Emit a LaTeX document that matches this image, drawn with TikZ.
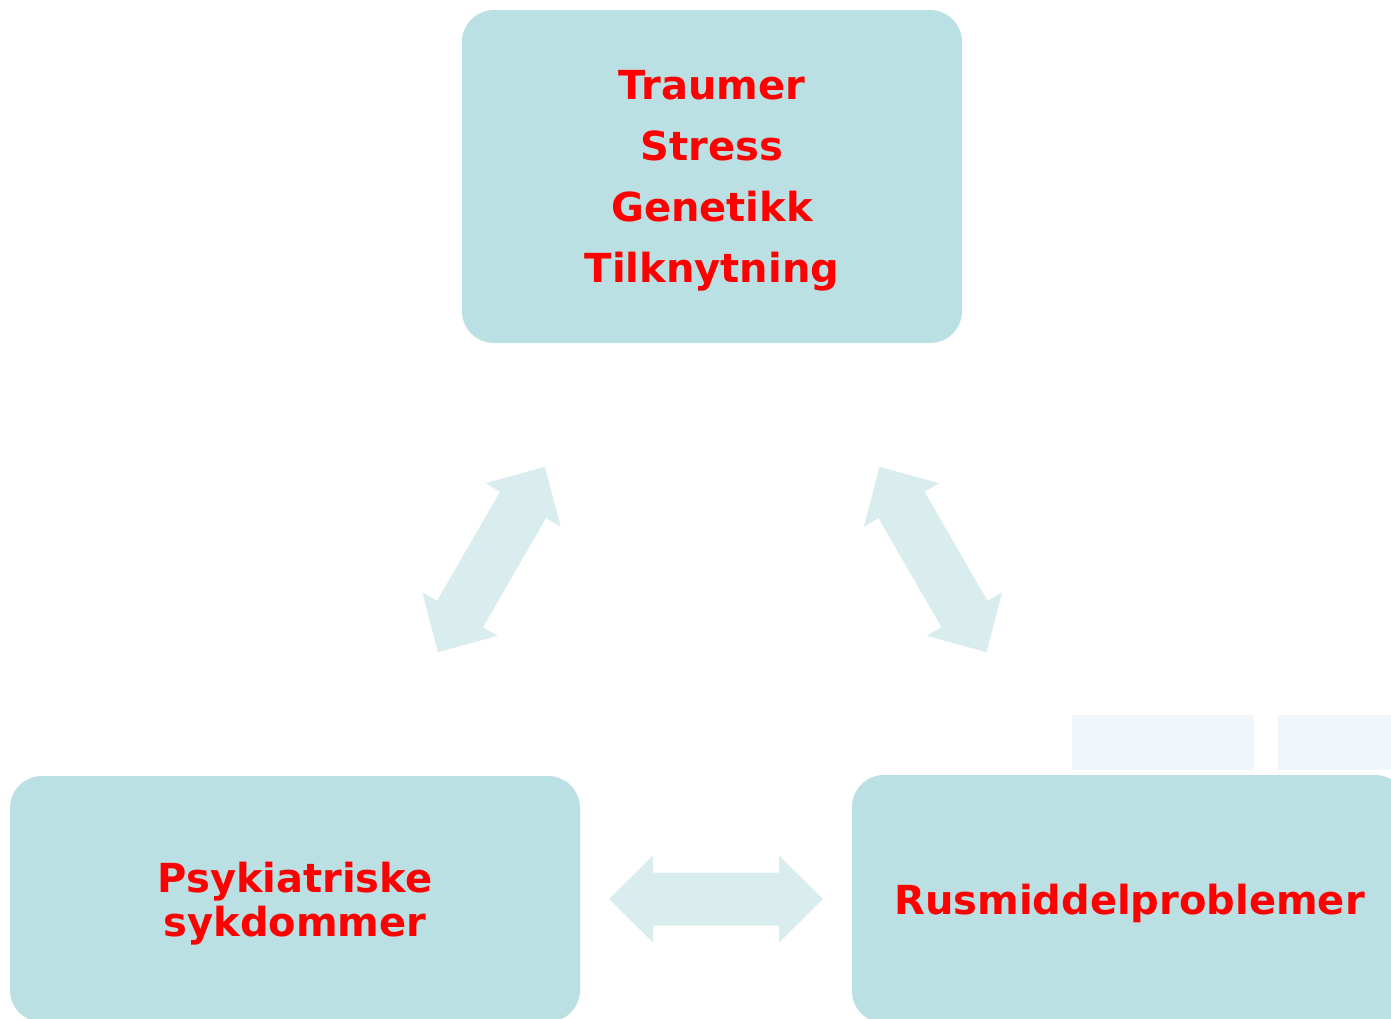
\documentclass[tikz,border=0pt]{standalone}
\usepackage{fontspec}
\setmainfont{DejaVu Sans}
\definecolor{boxfill}{RGB}{187,224,227}
\definecolor{arrfill}{RGB}{218,237,238}
\definecolor{ghost}{RGB}{240,246,250}
\definecolor{txtred}{RGB}{255,0,0}
\begin{document}
\begin{tikzpicture}[x=1pt,y=-1pt,
  box/.style={draw=none,fill=boxfill,rounded corners=32pt,inner sep=0pt,outer sep=0pt},
  lbl/.style={text=txtred,align=center,inner sep=0pt,font=\bfseries\fontsize{40}{61}\selectfont},
  lbltight/.style={lbl,font=\bfseries\fontsize{40}{44}\selectfont},
  dblarr/.pic={\fill[arrfill] (-107,0) -- (-63,43.5) -- (-63,26.5) -- (63,26.5) -- (63,43.5) -- (107,0)
      -- (63,-43.5) -- (63,-26.5) -- (-63,-26.5) -- (-63,-43.5) -- cycle;}]
\useasboundingbox (0,0) rectangle (1391,1018);
\clip (0,0) rectangle (1391,1018);
\fill[white] (0,0) rectangle (1391,1018);
% faint background rectangles
\fill[ghost] (1072,715) rectangle (1254,770);
\fill[ghost] (1278,715) rectangle (1391,770);
% boxes
\node[box,minimum width=500pt,minimum height=333pt] (top) at (712,176.5) {};
\node[box,minimum width=570pt,minimum height=246pt] (psy) at (295,899) {};
\node[box,minimum width=555pt,minimum height=248pt] (rus) at (1129.5,899) {};
% texts
\node[lbl,yshift=-4pt] (toptxt) at (top) {Traumer\\Stress\\Genetikk\\Tilknytning};
\node[lbltight,yshift=-5pt] (psytxt) at (psy) {Psykiatriske\\sykdommer};
\node[lbl,yshift=-4pt] (rustxt) at (rus) {Rusmiddelproblemer};
% block arrows
\pic[rotate=60] at (491.5,559.5) {dblarr};
\pic[rotate=-60] at (933,559.5) {dblarr};
\pic at (716,899) {dblarr};
\end{tikzpicture}
\end{document}
